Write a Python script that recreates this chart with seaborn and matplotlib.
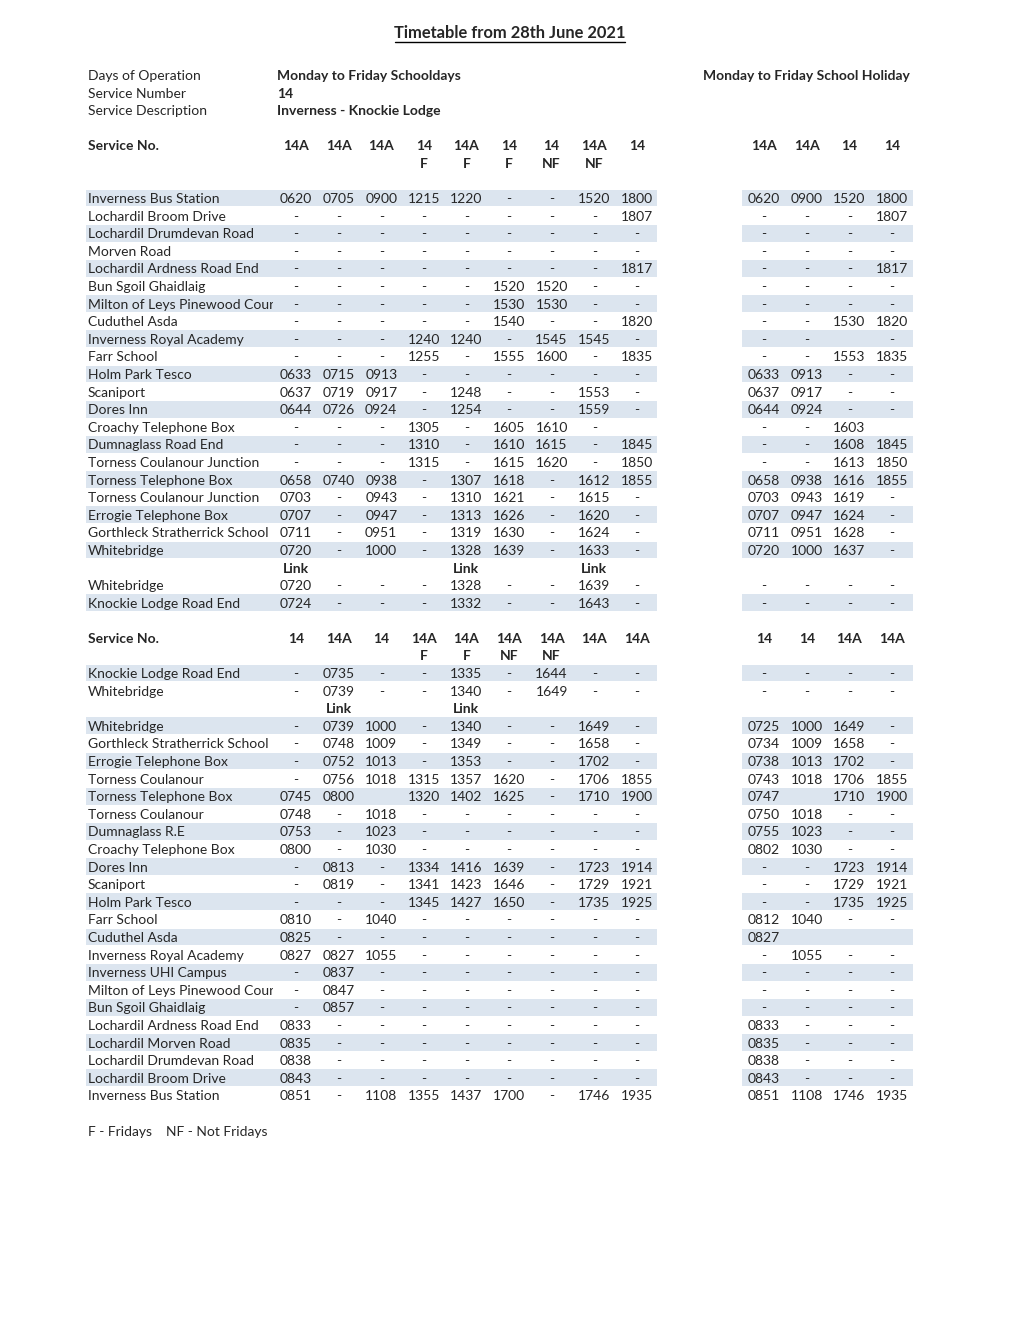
import seaborn as sns
import matplotlib.pyplot as plt
from matplotlib.patches import Rectangle

# Header text
title = 'Timetable from 28th June 2021'
info_labels = ['Days of Operation', 'Service Number', 'Service Description']
info_values = ['Monday to Friday Schooldays', '14', 'Inverness - Knockie Lodge']
holiday_label = 'Monday to Friday School Holiday'
footnote = 'F - Fridays    NF - Not Fridays'

# Section 1: Inverness -> Knockie Lodge
svc_out = ['14A', '14A', '14A', '14', '14A', '14', '14', '14A', '14']
days_out = ['', '', '', 'F', 'F', 'F', 'NF', 'NF', '']
svc_out_hol = ['14A', '14A', '14', '14']
stops_out = ['Inverness Bus Station', 'Lochardil Broom Drive', 'Lochardil Drumdevan Road',
             'Morven Road', 'Lochardil Ardness Road End', 'Bun Sgoil Ghaidlaig',
             'Milton of Leys Pinewood Court', 'Cuduthel Asda', 'Inverness Royal Academy',
             'Farr School', 'Holm Park Tesco', 'Scaniport', 'Dores Inn',
             'Croachy Telephone Box', 'Dumnaglass Road End', 'Torness Coulanour Junction',
             'Torness Telephone Box', 'Torness Coulanour Junction', 'Errogie Telephone Box',
             'Gorthleck Stratherrick School', 'Whitebridge', '', 'Whitebridge',
             'Knockie Lodge Road End']
times_out = [
    ['0620', '0705', '0900', '1215', '1220', '-', '-', '1520', '1800'],
    ['-', '-', '-', '-', '-', '-', '-', '-', '1807'],
    ['-', '-', '-', '-', '-', '-', '-', '-', '-'],
    ['-', '-', '-', '-', '-', '-', '-', '-', '-'],
    ['-', '-', '-', '-', '-', '-', '-', '-', '1817'],
    ['-', '-', '-', '-', '-', '1520', '1520', '-', '-'],
    ['-', '-', '-', '-', '-', '1530', '1530', '-', '-'],
    ['-', '-', '-', '-', '-', '1540', '-', '-', '1820'],
    ['-', '-', '-', '1240', '1240', '-', '1545', '1545', '-'],
    ['-', '-', '-', '1255', '-', '1555', '1600', '-', '1835'],
    ['0633', '0715', '0913', '-', '-', '-', '-', '-', '-'],
    ['0637', '0719', '0917', '-', '1248', '-', '-', '1553', '-'],
    ['0644', '0726', '0924', '-', '1254', '-', '-', '1559', '-'],
    ['-', '-', '-', '1305', '-', '1605', '1610', '-', ''],
    ['-', '-', '-', '1310', '-', '1610', '1615', '-', '1845'],
    ['-', '-', '-', '1315', '-', '1615', '1620', '-', '1850'],
    ['0658', '0740', '0938', '-', '1307', '1618', '-', '1612', '1855'],
    ['0703', '-', '0943', '-', '1310', '1621', '-', '1615', '-'],
    ['0707', '-', '0947', '-', '1313', '1626', '-', '1620', '-'],
    ['0711', '-', '0951', '-', '1319', '1630', '-', '1624', '-'],
    ['0720', '-', '1000', '-', '1328', '1639', '-', '1633', '-'],
    ['Link', '', '', '', 'Link', '', '', 'Link', ''],
    ['0720', '-', '-', '-', '1328', '-', '-', '1639', '-'],
    ['0724', '-', '-', '-', '1332', '-', '-', '1643', '-'],
]
times_out_hol = [
    ['0620', '0900', '1520', '1800'],
    ['-', '-', '-', '1807'],
    ['-', '-', '-', '-'],
    ['-', '-', '-', '-'],
    ['-', '-', '-', '1817'],
    ['-', '-', '-', '-'],
    ['-', '-', '-', '-'],
    ['-', '-', '1530', '1820'],
    ['-', '-', '', '-'],
    ['-', '-', '1553', '1835'],
    ['0633', '0913', '-', '-'],
    ['0637', '0917', '-', '-'],
    ['0644', '0924', '-', '-'],
    ['-', '-', '1603', ''],
    ['-', '-', '1608', '1845'],
    ['-', '-', '1613', '1850'],
    ['0658', '0938', '1616', '1855'],
    ['0703', '0943', '1619', '-'],
    ['0707', '0947', '1624', '-'],
    ['0711', '0951', '1628', '-'],
    ['0720', '1000', '1637', '-'],
    ['', '', '', ''],
    ['-', '-', '-', '-'],
    ['-', '-', '-', '-'],
]

# Section 2: Knockie Lodge -> Inverness
svc_in = ['14', '14A', '14', '14A', '14A', '14A', '14A', '14A', '14A']
days_in = ['', '', '', 'F', 'F', 'NF', 'NF', '', '']
svc_in_hol = ['14', '14', '14A', '14A']
stops_in = ['Knockie Lodge Road End', 'Whitebridge', '', 'Whitebridge',
            'Gorthleck Stratherrick School', 'Errogie Telephone Box', 'Torness Coulanour',
            'Torness Telephone Box', 'Torness Coulanour', 'Dumnaglass R.E',
            'Croachy Telephone Box', 'Dores Inn', 'Scaniport', 'Holm Park Tesco',
            'Farr School', 'Cuduthel Asda', 'Inverness Royal Academy',
            'Inverness UHI Campus', 'Milton of Leys Pinewood Court', 'Bun Sgoil Ghaidlaig',
            'Lochardil Ardness Road End', 'Lochardil Morven Road', 'Lochardil Drumdevan Road',
            'Lochardil Broom Drive', 'Inverness Bus Station']
times_in = [
    ['-', '0735', '-', '-', '1335', '-', '1644', '-', '-'],
    ['-', '0739', '-', '-', '1340', '-', '1649', '-', '-'],
    ['', 'Link', '', '', 'Link', '', '', '', ''],
    ['-', '0739', '1000', '-', '1340', '-', '-', '1649', '-'],
    ['-', '0748', '1009', '-', '1349', '-', '-', '1658', '-'],
    ['-', '0752', '1013', '-', '1353', '-', '-', '1702', '-'],
    ['-', '0756', '1018', '1315', '1357', '1620', '-', '1706', '1855'],
    ['0745', '0800', '', '1320', '1402', '1625', '-', '1710', '1900'],
    ['0748', '-', '1018', '-', '-', '-', '-', '-', '-'],
    ['0753', '-', '1023', '-', '-', '-', '-', '-', '-'],
    ['0800', '-', '1030', '-', '-', '-', '-', '-', '-'],
    ['-', '0813', '-', '1334', '1416', '1639', '-', '1723', '1914'],
    ['-', '0819', '-', '1341', '1423', '1646', '-', '1729', '1921'],
    ['-', '-', '-', '1345', '1427', '1650', '-', '1735', '1925'],
    ['0810', '-', '1040', '-', '-', '-', '-', '-', '-'],
    ['0825', '-', '-', '-', '-', '-', '-', '-', '-'],
    ['0827', '0827', '1055', '-', '-', '-', '-', '-', '-'],
    ['-', '0837', '-', '-', '-', '-', '-', '-', '-'],
    ['-', '0847', '-', '-', '-', '-', '-', '-', '-'],
    ['-', '0857', '-', '-', '-', '-', '-', '-', '-'],
    ['0833', '-', '-', '-', '-', '-', '-', '-', '-'],
    ['0835', '-', '-', '-', '-', '-', '-', '-', '-'],
    ['0838', '-', '-', '-', '-', '-', '-', '-', '-'],
    ['0843', '-', '-', '-', '-', '-', '-', '-', '-'],
    ['0851', '-', '1108', '1355', '1437', '1700', '-', '1746', '1935'],
]
times_in_hol = [
    ['-', '-', '-', '-'],
    ['-', '-', '-', '-'],
    ['', '', '', ''],
    ['0725', '1000', '1649', '-'],
    ['0734', '1009', '1658', '-'],
    ['0738', '1013', '1702', '-'],
    ['0743', '1018', '1706', '1855'],
    ['0747', '', '1710', '1900'],
    ['0750', '1018', '-', '-'],
    ['0755', '1023', '-', '-'],
    ['0802', '1030', '-', '-'],
    ['-', '-', '1723', '1914'],
    ['-', '-', '1729', '1921'],
    ['-', '-', '1735', '1925'],
    ['0812', '1040', '-', '-'],
    ['0827', '', '', ''],
    ['-', '1055', '-', '-'],
    ['-', '-', '-', '-'],
    ['-', '-', '-', '-'],
    ['-', '-', '-', '-'],
    ['0833', '-', '-', '-'],
    ['0835', '-', '-', '-'],
    ['0838', '-', '-', '-'],
    ['0843', '-', '-', '-'],
    ['0851', '1108', '1746', '1935'],
]

sns.set_theme(style='white')
plt.rcParams['font.family'] = ['Lato', 'DejaVu Sans']

FS = 10
BAND = '#dce5ef'
ROW_H = 17.6
COL_X = [296 + 42.6 * i for i in range(9)]
HOL_X = [764 + 42.7 * i for i in range(4)]

fig = plt.figure(figsize=(10.2, 13.2), dpi=100)
ax = fig.add_axes([0, 0, 1, 1])
ax.set_xlim(0, 1020)
ax.set_ylim(1320, 0)
ax.axis('off')

# Title with underline
ax.text(510, 33, title, ha='center', va='center', fontsize=11.9, fontweight='bold')
ax.plot([395, 625], [41.5, 41.5], color='black', lw=1)

for i, (lab, val) in enumerate(zip(info_labels, info_values)):
    y = 76 + i * 17.6
    ax.text(88, y, lab, va='center', fontsize=FS)
    ax.text(277, y, val, va='center', fontsize=FS, fontweight='bold')
hol = ax.text(703, 76, holiday_label, va='center', fontsize=FS, fontweight='bold',
              clip_on=True)
hol.set_clip_path(Rectangle((700, 60), 211, 30, transform=ax.transData))


def draw_section(y_head, y0, svc, days, svc_h, stops, times, times_h):
    ax.text(88, y_head, 'Service No.', va='center', fontsize=FS, fontweight='bold')
    for x, s, d in zip(COL_X, svc, days):
        ax.text(x, y_head, s, ha='center', va='center', fontsize=FS, fontweight='bold')
        ax.text(x, y_head + 17.5, d, ha='center', va='center', fontsize=FS, fontweight='bold')
    for x, s in zip(HOL_X, svc_h):
        ax.text(x, y_head, s, ha='center', va='center', fontsize=FS, fontweight='bold')

    clip = Rectangle((80, 0), 193, 1320, transform=ax.transData)
    k = 0
    for r, (stop, row, row_h) in enumerate(zip(stops, times, times_h)):
        y = y0 + r * ROW_H
        is_link = 'Link' in row
        if not is_link:
            if k % 2 == 0:
                ax.barh(y, 571, left=86, height=16.8, color=BAND, linewidth=0)
                ax.barh(y, 171, left=742, height=16.8, color=BAND, linewidth=0)
            k += 1
        t = ax.text(88, y + 1, stop, va='center', fontsize=FS, clip_on=True)
        t.set_clip_path(clip)
        for x, v in zip(COL_X, row):
            ax.text(x, y + 1, v, ha='center', va='center', fontsize=FS,
                    fontweight='bold' if v == 'Link' else 'normal')
        for x, v in zip(HOL_X, row_h):
            ax.text(x, y + 1, v, ha='center', va='center', fontsize=FS)


draw_section(146, 198, svc_out, days_out, svc_out_hol, stops_out, times_out, times_out_hol)
draw_section(639, 673, svc_in, days_in, svc_in_hol, stops_in, times_in, times_in_hol)

ax.text(88, 1132, footnote, va='center', fontsize=FS)

fig.savefig('out.png', dpi=100)
